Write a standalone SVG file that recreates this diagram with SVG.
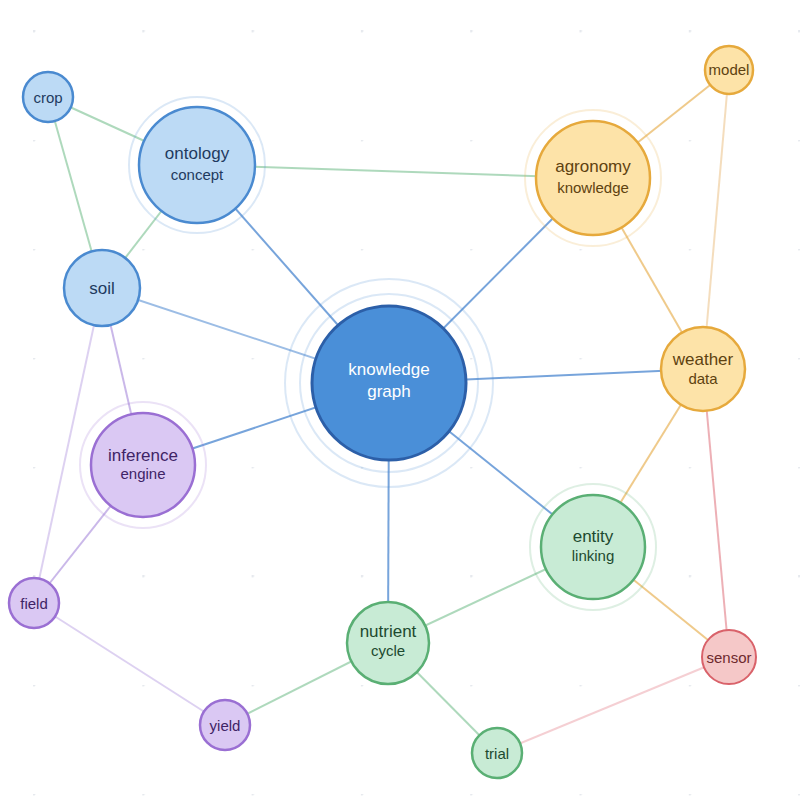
<svg xmlns="http://www.w3.org/2000/svg" width="800" height="800" viewBox="0 0 800 800">
<defs>
<pattern id="dots" x="33" y="30" width="109.3" height="109" patternUnits="userSpaceOnUse">
<circle cx="1" cy="1" r="1.5" fill="#e6e9ee"/>
</pattern>
<style>
text{font-family:"Liberation Sans",Arial,sans-serif;text-anchor:middle}
.e{fill:none;stroke-width:2}
.blue{stroke:#4a86cf;stroke-opacity:.75}
.blueL{stroke:#4a86cf;stroke-opacity:.55}
.green{stroke:#8cc9a0;stroke-opacity:.7}
.orange{stroke:#e8b35a;stroke-opacity:.7}
.orangeL{stroke:#ebc187;stroke-opacity:.55}
.purple{stroke:#b49ae0;stroke-opacity:.7}
.purpleL{stroke:#b49ae0;stroke-opacity:.45}
.pink{stroke:#e58f97;stroke-opacity:.7}
.pinkL{stroke:#eba0a8;stroke-opacity:.5}
.nb{fill:#bcdaf5;stroke:#4a8ad0;stroke-width:2.5}
.no{fill:#fde3a8;stroke:#e6a93c;stroke-width:2.5}
.np{fill:#dac8f3;stroke:#9a6fd3;stroke-width:2.5}
.ng{fill:#c8ebd5;stroke:#5aaf74;stroke-width:2.5}
.nr{fill:#f5c8c8;stroke:#d9626a;stroke-width:2}
.hb{fill:none;stroke:#4a8ad0;stroke-opacity:.2;stroke-width:2}
.ho{fill:none;stroke:#e6a93c;stroke-opacity:.2;stroke-width:2}
.hp{fill:none;stroke:#9a6fd3;stroke-opacity:.2;stroke-width:2}
.hg{fill:none;stroke:#5aaf74;stroke-opacity:.2;stroke-width:2}
.t1{font-size:17px}.t2{font-size:15px}.ts{font-size:15px}
.tb{fill:#1f3a5f}.to{fill:#5e4210}.tp{fill:#3f2466}.tg{fill:#1d4a2f}.tr{fill:#6e2a2e}
</style>
</defs>
<rect width="800" height="800" fill="#ffffff"/>
<rect width="800" height="800" fill="url(#dots)"/>
<g id="connectors">
<line class="e green" x1="48" y1="97" x2="197" y2="165"/>
<line class="e green" x1="48" y1="97" x2="102" y2="288"/>
<line class="e green" x1="197" y1="165" x2="102" y2="288"/>
<line class="e green" x1="197" y1="165" x2="593" y2="178"/>
<line class="e blue" x1="197" y1="165" x2="389" y2="383"/>
<line class="e blue" x1="593" y1="178" x2="389" y2="383"/>
<line class="e orange" x1="593" y1="178" x2="729" y2="70"/>
<line class="e orange" x1="593" y1="178" x2="703" y2="369"/>
<line class="e orangeL" x1="729" y1="70" x2="703" y2="369"/>
<line class="e blueL" x1="102" y1="288" x2="389" y2="383"/>
<line class="e purple" x1="102" y1="288" x2="143" y2="465"/>
<line class="e purpleL" x1="102" y1="288" x2="34" y2="603"/>
<line class="e blue" x1="389" y1="383" x2="703" y2="369"/>
<line class="e blue" x1="389" y1="383" x2="143" y2="465"/>
<line class="e blue" x1="389" y1="383" x2="593" y2="547"/>
<line class="e blue" x1="389" y1="383" x2="388" y2="643"/>
<line class="e orange" x1="703" y1="369" x2="593" y2="547"/>
<line class="e pink" x1="703" y1="369" x2="729" y2="657"/>
<line class="e orange" x1="593" y1="547" x2="729" y2="657"/>
<line class="e green" x1="593" y1="547" x2="388" y2="643"/>
<line class="e purple" x1="143" y1="465" x2="34" y2="603"/>
<line class="e purpleL" x1="34" y1="603" x2="225" y2="725"/>
<line class="e green" x1="225" y1="725" x2="388" y2="643"/>
<line class="e green" x1="388" y1="643" x2="497" y2="753"/>
<line class="e pinkL" x1="497" y1="753" x2="729" y2="657"/>
</g>
<g id="node-kg">
<circle class="hb" cx="389" cy="383" r="104" stroke-opacity=".12"/>
<circle class="hb" cx="389" cy="383" r="89"/>
<circle cx="389" cy="383" r="77" fill="#4a8fd8" stroke="#2c5fa8" stroke-width="3"/>
<text class="t1" x="389" y="375" fill="#ffffff">knowledge</text>
<text class="t1" x="389" y="397" fill="#ffffff">graph</text>
</g>
<g id="node-ontology">
<circle class="hb" cx="197" cy="165" r="68"/>
<circle class="nb" cx="197" cy="165" r="58"/>
<text class="t1 tb" x="197" y="159">ontology</text>
<text class="t2 tb" x="197" y="180">concept</text>
</g>
<g id="node-agronomy">
<circle class="ho" cx="593" cy="178" r="68"/>
<circle class="no" cx="593" cy="178" r="57"/>
<text class="t1 to" x="593" y="172">agronomy</text>
<text class="t2 to" x="593" y="193">knowledge</text>
</g>
<g id="node-model">
<circle class="no" cx="729" cy="70" r="24"/>
<text class="ts to" x="729" y="75">model</text>
</g>
<g id="node-weather">
<circle class="no" cx="703" cy="369" r="42"/>
<text class="t1 to" x="703" y="365">weather</text>
<text class="t2 to" x="703" y="384">data</text>
</g>
<g id="node-crop">
<circle class="nb" cx="48" cy="97" r="25"/>
<text class="ts tb" x="48" y="103">crop</text>
</g>
<g id="node-soil">
<circle class="nb" cx="102" cy="288" r="38" fill="#c5dbf3"/>
<text class="t1 tb" x="102" y="294">soil</text>
</g>
<g id="node-inference">
<circle class="hp" cx="143" cy="465" r="63"/>
<circle class="np" cx="143" cy="465" r="52"/>
<text class="t1 tp" x="143" y="461">inference</text>
<text class="t2 tp" x="143" y="479">engine</text>
</g>
<g id="node-field">
<circle class="np" cx="34" cy="603" r="25"/>
<text class="ts tp" x="34" y="609">field</text>
</g>
<g id="node-yield">
<circle class="np" cx="225" cy="725" r="25"/>
<text class="ts tp" x="225" y="731">yield</text>
</g>
<g id="node-nutrient">
<circle class="ng" cx="388" cy="643" r="41"/>
<text class="t1 tg" x="388" y="637">nutrient</text>
<text class="t2 tg" x="388" y="656">cycle</text>
</g>
<g id="node-entity">
<circle class="hg" cx="593" cy="547" r="63"/>
<circle class="ng" cx="593" cy="547" r="52"/>
<text class="t1 tg" x="593" y="542">entity</text>
<text class="t2 tg" x="593" y="561">linking</text>
</g>
<g id="node-trial">
<circle class="ng" cx="497" cy="753" r="25"/>
<text class="ts tg" x="497" y="759">trial</text>
</g>
<g id="node-sensor">
<circle class="nr" cx="729" cy="657" r="27"/>
<text class="ts tr" x="729" y="663">sensor</text>
</g>
</svg>
